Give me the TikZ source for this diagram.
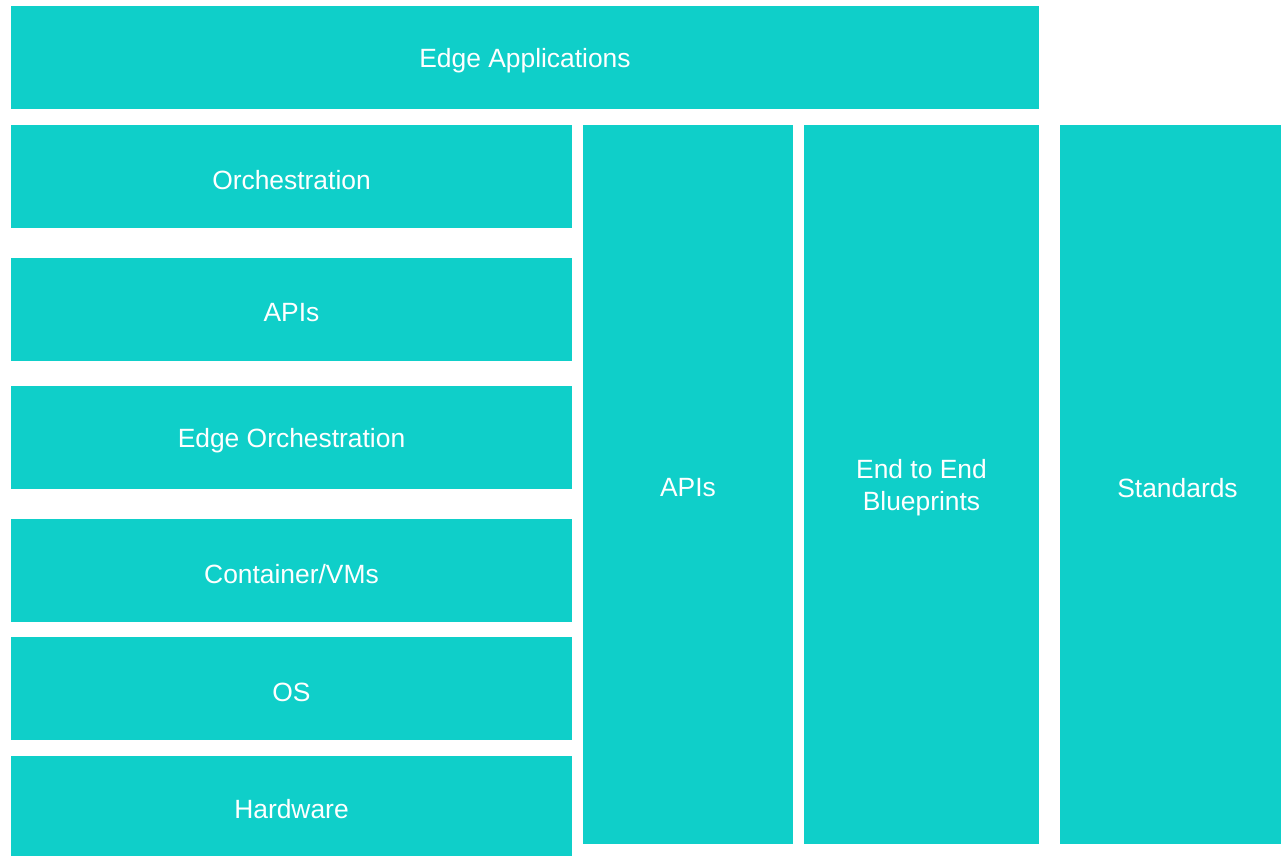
\documentclass[tikz,border=0pt]{standalone}
\usepackage{fontspec}
\setmainfont{Liberation Sans}
\definecolor{tealbox}{HTML}{0FCFC9}
\begin{document}
\begin{tikzpicture}[x=1pt,y=-1pt,
  block/.style={fill=none,draw=none,text=white,align=center,yshift=-3.5pt,
    font=\fontsize{26.4}{32}\selectfont}]
\useasboundingbox (0,0) rectangle (1281,856);
\fill[white] (0,0) rectangle (1281,856);
\newcommand{\blk}[7]{%
  \fill[tealbox] (#2,#3) rectangle (#4,#5);
  \node[block] (#1) at ({(#2+#4)/2+#7},{(#3+#5)/2}) {#6};}
\blk{edgeapps}{11}{6}{1039}{108.7}{Edge Applications}{0}
\blk{orch}{11}{125}{572}{227.7}{Orchestration}{0}
\blk{apis}{11}{258}{572}{360.7}{APIs}{0}
\blk{edgeorch}{11}{386}{572}{488.7}{Edge Orchestration}{0}
\blk{container}{11}{519}{572}{621.7}{Container/VMs}{0}
\blk{os}{11}{637}{572}{740}{OS}{0}
\blk{hw}{11}{756}{572}{856}{Hardware}{0}
\blk{vapis}{583}{125}{793}{844}{APIs}{0}
\blk{e2e}{804}{125}{1039}{844}{End to End\\Blueprints}{0}
\blk{std}{1060}{125}{1281}{844}{Standards}{7}
\end{tikzpicture}
\end{document}
